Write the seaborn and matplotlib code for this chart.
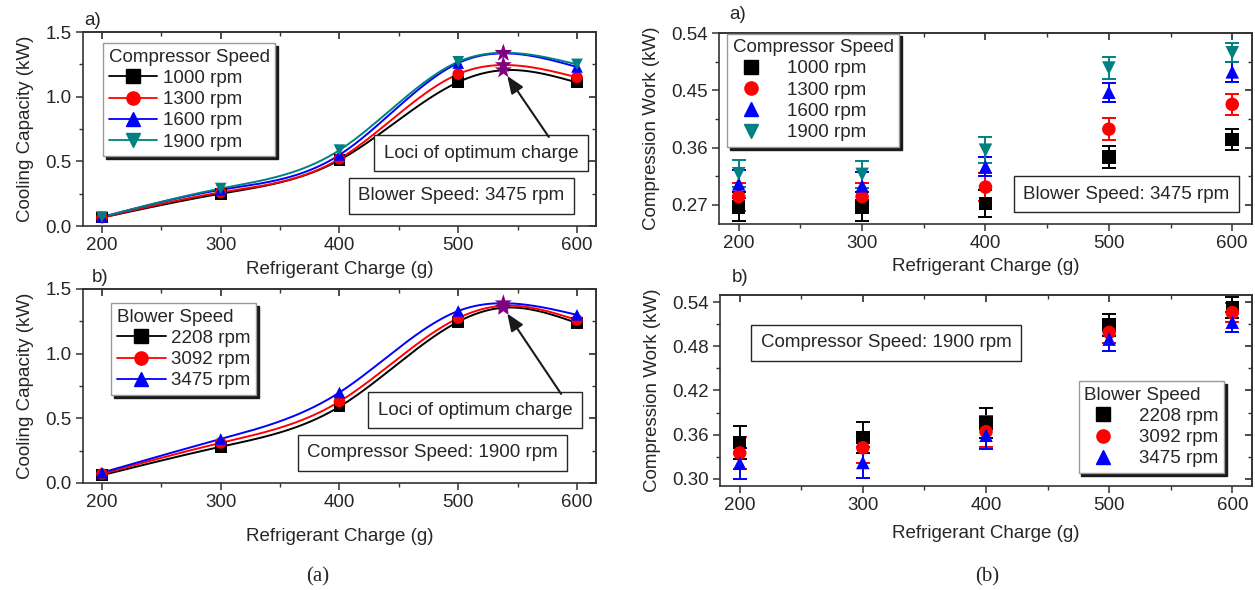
import numpy as np
import pandas as pd
import matplotlib
matplotlib.use('Agg')
import matplotlib.pyplot as plt
from matplotlib.lines import Line2D
from matplotlib.ticker import MultipleLocator, FormatStrFormatter
import seaborn as sns

# ---- datos ----
charge = [200, 300, 400, 500, 600]
opt_charge = 538

comp_labels = ['1000 rpm', '1300 rpm', '1600 rpm', '1900 rpm']
blow_labels = ['2208 rpm', '3092 rpm', '3475 rpm']

# (a) capacidad de enfriamiento, blower 3475 rpm
cap_a_1000 = [0.065, 0.25, 0.51, 1.113, 1.11]
cap_a_1300 = [0.065, 0.26, 0.52, 1.175, 1.15]
cap_a_1600 = [0.07, 0.28, 0.55, 1.26, 1.23]
cap_a_1900 = [0.07, 0.29, 0.587, 1.27, 1.25]
peak_a = [1.205, 1.245, 1.335, 1.34]

# (b) capacidad de enfriamiento, compresor 1900 rpm
cap_b_2208 = [0.06, 0.28, 0.59, 1.247, 1.237]
cap_b_3092 = [0.07, 0.31, 0.63, 1.275, 1.26]
cap_b_3475 = [0.08, 0.34, 0.70, 1.33, 1.30]
peak_b = [1.355, 1.37, 1.39]

# trabajo de compresion, blower 3475 rpm
work_a_1000 = [0.267, 0.267, 0.272, 0.345, 0.373]
work_a_1300 = [0.283, 0.283, 0.298, 0.389, 0.428]
work_a_1600 = [0.303, 0.300, 0.330, 0.447, 0.479]
work_a_1900 = [0.319, 0.318, 0.356, 0.485, 0.509]
err_a_1000 = [0.023, 0.023, 0.021, 0.017, 0.017]
err_a_1300 = [0.022, 0.022, 0.022, 0.017, 0.017]
err_a_1600 = [0.022, 0.022, 0.015, 0.015, 0.016]
err_a_1900 = [0.021, 0.021, 0.020, 0.017, 0.015]

# trabajo de compresion, compresor 1900 rpm
work_b_2208 = [0.349, 0.356, 0.376, 0.509, 0.533]
work_b_3092 = [0.335, 0.342, 0.364, 0.499, 0.526]
work_b_3475 = [0.321, 0.322, 0.359, 0.490, 0.513]
err_b_2208 = [0.022, 0.021, 0.020, 0.015, 0.014]
err_b_3092 = [0.022, 0.021, 0.021, 0.015, 0.013]
err_b_3475 = [0.021, 0.021, 0.019, 0.016, 0.014]

COLORS4 = ['#000000', '#ff0000', '#0000ff', '#008080']
MARKERS4 = ['s', 'o', '^', 'v']
STAR = '#800080'
FS = 13.5

sns.set_theme(style='ticks')
plt.rcParams['font.family'] = ['Liberation Sans', 'DejaVu Sans']
plt.rcParams['axes.edgecolor'] = '0.2'
plt.rcParams['axes.linewidth'] = 1.2


def spline(xk, yk, n=300):
    # spline cubico natural para la curva suavizada
    xk = np.asarray(xk, float)
    yk = np.asarray(yk, float)
    h = np.diff(xk)
    nk = len(xk)
    A = np.zeros((nk, nk))
    r = np.zeros(nk)
    A[0, 0] = A[-1, -1] = 1
    for i in range(1, nk - 1):
        A[i, i - 1] = h[i - 1]
        A[i, i] = 2 * (h[i - 1] + h[i])
        A[i, i + 1] = h[i]
        r[i] = 6 * ((yk[i + 1] - yk[i]) / h[i] - (yk[i] - yk[i - 1]) / h[i - 1])
    M = np.linalg.solve(A, r)
    xs = np.linspace(xk[0], xk[-1], n)
    idx = np.clip(np.searchsorted(xk, xs) - 1, 0, nk - 2)
    x0, x1 = xk[idx], xk[idx + 1]
    hh = x1 - x0
    a = (x1 - xs) / hh
    b = (xs - x0) / hh
    ys = a * yk[idx] + b * yk[idx + 1] + ((a**3 - a) * M[idx] + (b**3 - b) * M[idx + 1]) * hh**2 / 6
    return xs, ys


def style_axes(ax, ymaj, ymin_, ylim, ylabel, xlabelpad):
    ax.set_xlim(184, 616)
    ax.set_ylim(*ylim)
    ax.set_xticks(charge)
    ax.xaxis.set_minor_locator(MultipleLocator(50))
    ax.yaxis.set_major_locator(MultipleLocator(ymaj))
    ax.yaxis.set_minor_locator(MultipleLocator(ymin_))
    ax.tick_params(which='major', direction='out', length=5, width=1.1, labelsize=FS, color='0.2', pad=3)
    ax.tick_params(which='minor', direction='out', length=3, width=1.0, color='0.2')
    ax.set_xlabel('Refrigerant Charge (g)', fontsize=FS, labelpad=xlabelpad)
    ax.set_ylabel(ylabel, fontsize=FS, labelpad=8)
    top = ax.secondary_xaxis('top')
    top.set_xticks(charge)
    top.xaxis.set_minor_locator(MultipleLocator(50))
    top.tick_params(which='both', direction='in', labeltop=False, color='0.2')
    top.tick_params(which='major', length=5)
    top.tick_params(which='minor', length=3)
    right = ax.secondary_yaxis('right')
    right.yaxis.set_major_locator(MultipleLocator(ymaj))
    right.yaxis.set_minor_locator(MultipleLocator(ymin_))
    right.tick_params(which='both', direction='in', labelright=False, color='0.2')
    right.tick_params(which='major', length=5)
    right.tick_params(which='minor', length=3)


def legend(ax, title, labels, colors, markers, line, **kw):
    handles = [Line2D([], [], color=c, marker=m, markersize=9.5,
                      lw=1.3 if line else 0, linestyle='-' if line else 'none')
               for c, m in zip(colors, markers)]
    leg = ax.legend(handles, labels, title=title, fontsize=FS, title_fontsize=FS,
                    frameon=True, fancybox=False, edgecolor='0.6', framealpha=1,
                    shadow={'color': 'k', 'alpha': 1}, alignment='left',
                    handlelength=2.6 if line else 2.0, handletextpad=0.3 if line else 0.9,
                    labelspacing=0.22, borderpad=0.3, borderaxespad=0, **kw)
    leg.get_frame().set_linewidth(1.0)
    leg.set_zorder(10)
    return leg


def textbox(ax, x, y, s):
    ax.text(x, y, s, transform=ax.transAxes, ha='center', va='center', fontsize=FS, zorder=8,
            bbox=dict(boxstyle='square,pad=0.5', fc='white', ec='0.15', lw=1.0))


def capacity(ax, series, labels, peaks, colors, markers):
    curves, pts = [], []
    for vals, lab, pk in zip(series, labels, peaks):
        xk = charge[:4] + [opt_charge] + charge[4:]
        yk = vals[:4] + [pk] + vals[4:]
        xs, ys = spline(xk, yk)
        curves.append(pd.DataFrame({'x': xs, 'y': ys, 'speed': lab}))
        pts.append(pd.DataFrame({'x': charge, 'y': vals, 'speed': lab}))
    curves = pd.concat(curves, ignore_index=True)
    pts = pd.concat(pts, ignore_index=True)
    pal = dict(zip(labels, colors))
    sns.lineplot(data=curves, x='x', y='y', hue='speed', palette=pal, sort=False,
                 estimator=None, lw=1.4, legend=False, ax=ax)
    sns.scatterplot(data=pts, x='x', y='y', hue='speed', style='speed', palette=pal,
                    markers=dict(zip(labels, markers)), s=70, edgecolor='none',
                    legend=False, ax=ax, zorder=4)
    stars = pd.DataFrame({'x': [opt_charge] * len(peaks), 'y': peaks})
    sns.scatterplot(data=stars, x='x', y='y', marker='*', color=STAR, s=170,
                    edgecolor='none', legend=False, ax=ax, zorder=5)


def work(ax, series, errs, labels, colors, markers):
    pts = []
    for vals, er, lab, c in zip(series, errs, labels, colors):
        ax.errorbar(charge, vals, yerr=er, fmt='none', ecolor=c, elinewidth=1.4,
                    capsize=5, capthick=1.4, zorder=3)
        pts.append(pd.DataFrame({'x': charge, 'y': vals, 'speed': lab}))
    pts = pd.concat(pts, ignore_index=True)
    pal = dict(zip(labels, colors))
    sns.scatterplot(data=pts, x='x', y='y', hue='speed', style='speed', palette=pal,
                    markers=dict(zip(labels, markers)), s=95, edgecolor='none',
                    legend=False, ax=ax, zorder=4)


fig = plt.figure(figsize=(12.55, 5.9), dpi=100)
ax_tl = fig.add_axes([0.0661, 0.6169, 0.4088, 0.3288])
ax_bl = fig.add_axes([0.0661, 0.1814, 0.4088, 0.3288])
ax_tr = fig.add_axes([0.5729, 0.6203, 0.4247, 0.3237])
ax_br = fig.add_axes([0.5737, 0.1763, 0.4239, 0.3237])

arrow = dict(arrowstyle='-|>,head_length=0.75,head_width=0.3', color='k',
             lw=1.5, shrinkA=0, shrinkB=5, mutation_scale=14)

# --- capacidad (a) ---
capacity(ax_tl, [cap_a_1000, cap_a_1300, cap_a_1600, cap_a_1900], comp_labels, peak_a,
         COLORS4, MARKERS4)
style_axes(ax_tl, 0.5, 0.25, (0, 1.5), 'Cooling Capacity (kW)', 5)
legend(ax_tl, 'Compressor Speed', comp_labels, COLORS4, MARKERS4, True,
       loc='upper left', bbox_to_anchor=(0.039, 0.943))
textbox(ax_tl, 0.776, 0.376, 'Loci of optimum charge')
textbox(ax_tl, 0.737, 0.155, 'Blower Speed: 3475 rpm')
ax_tl.annotate('', xy=(opt_charge, min(peak_a)), xycoords='data',
               xytext=(0.908, 0.459), textcoords='axes fraction', zorder=9,
               arrowprops=arrow)

# --- capacidad (b) ---
capacity(ax_bl, [cap_b_2208, cap_b_3092, cap_b_3475], blow_labels, peak_b,
         COLORS4[:3], MARKERS4[:3])
style_axes(ax_bl, 0.5, 0.25, (0, 1.5), 'Cooling Capacity (kW)', 12)
legend(ax_bl, 'Blower Speed', blow_labels, COLORS4[:3], MARKERS4[:3], True,
       loc='upper left', bbox_to_anchor=(0.055, 0.928))
textbox(ax_bl, 0.764, 0.376, 'Loci of optimum charge')
textbox(ax_bl, 0.681, 0.155, 'Compressor Speed: 1900 rpm')
ax_bl.annotate('', xy=(opt_charge, min(peak_b)), xycoords='data',
               xytext=(0.932, 0.459), textcoords='axes fraction', zorder=9,
               arrowprops=arrow)

# --- trabajo (a) ---
work(ax_tr, [work_a_1000, work_a_1300, work_a_1600, work_a_1900],
     [err_a_1000, err_a_1300, err_a_1600, err_a_1900], comp_labels, COLORS4, MARKERS4)
style_axes(ax_tr, 0.09, 0.045, (0.24, 0.54), 'Compression Work (kW)', 4)
ax_tr.yaxis.set_major_formatter(FormatStrFormatter('%.2f'))
legend(ax_tr, 'Compressor Speed', comp_labels, COLORS4, MARKERS4, False,
       loc='upper left', bbox_to_anchor=(0.015, 0.997))
textbox(ax_tr, 0.764, 0.157, 'Blower Speed: 3475 rpm')

# --- trabajo (b) ---
work(ax_br, [work_b_2208, work_b_3092, work_b_3475],
     [err_b_2208, err_b_3092, err_b_3475], blow_labels, COLORS4[:3], MARKERS4[:3])
style_axes(ax_br, 0.06, 0.03, (0.29, 0.55), 'Compression Work (kW)', 8)
ax_br.yaxis.set_major_formatter(FormatStrFormatter('%.2f'))
legend(ax_br, 'Blower Speed', blow_labels, COLORS4[:3], MARKERS4[:3], False,
       loc='lower right', bbox_to_anchor=(0.947, 0.068))
textbox(ax_br, 0.312, 0.749, 'Compressor Speed: 1900 rpm')

# etiquetas de panel
fig.text(0.074, 0.966, 'a)', fontsize=FS, ha='center', va='center')
fig.text(0.080, 0.529, 'b)', fontsize=FS, ha='center', va='center')
fig.text(0.588, 0.975, 'a)', fontsize=FS, ha='center', va='center')
fig.text(0.590, 0.529, 'b)', fontsize=FS, ha='center', va='center')
fig.text(0.253, 0.022, '(a)', fontsize=15, ha='center', va='center', family='Liberation Serif')
fig.text(0.787, 0.022, '(b)', fontsize=15, ha='center', va='center', family='Liberation Serif')

fig.savefig('out.png', dpi=100)
plt.close(fig)
